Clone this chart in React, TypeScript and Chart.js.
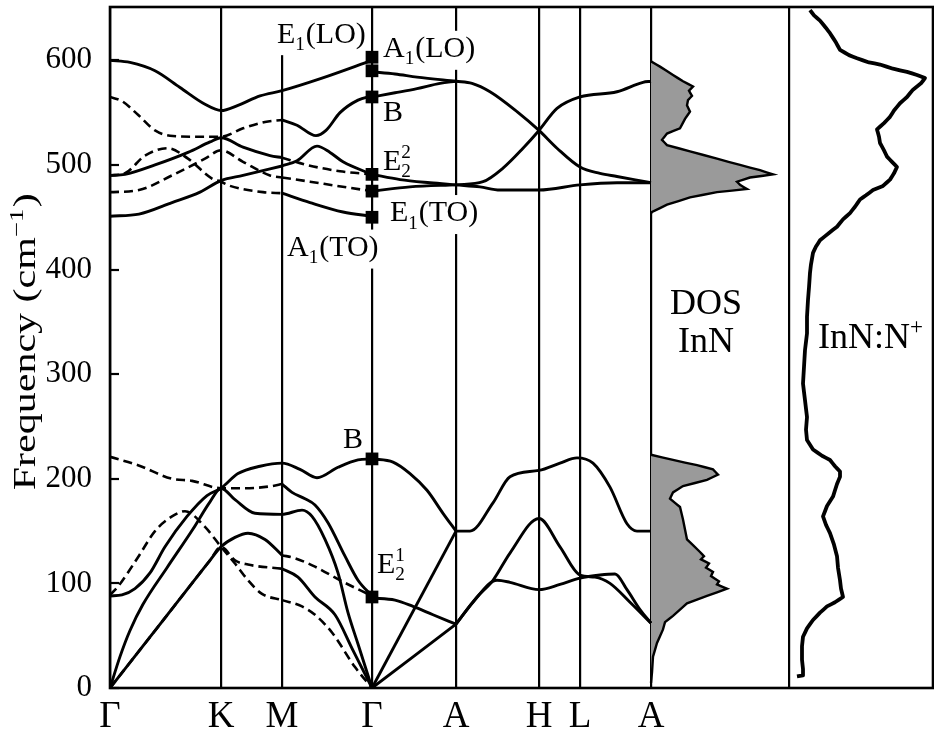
import React, { useEffect, useRef } from "react";
import { Chart, registerables } from "chart.js";

Chart.register(...registerables);

const FONT = "'Liberation Serif', 'DejaVu Serif', serif";

// ---- axes ----
const kPointPos = [0, 111, 172, 262, 346, 429, 470, 541, 679];
const kPointLabels = ["Γ", "K", "M", "Γ", "A", "H", "L", "A", ""];
const GAMMA2 = 262;
const A_END = 541;
const SEP = 679;
const X_MAX = 823;
const yTicks = [0, 100, 200, 300, 400, 500, 600];
const Y_MAX = 651;

// ---- optical branches (path coordinate, frequency cm^-1) ----
const topBranch = [[0, 600], [20, 598], [45, 590], [70, 574], [95, 558], [111, 552], [128, 557], [150, 566], [172, 571], [212, 583], [262, 600]];
const upperDashA = [[0, 565], [12, 561], [28, 548], [45, 533], [60, 528], [85, 527], [111, 527], [133, 535], [155, 541], [172, 543]];
const upperSolidA2 = [[172, 543], [187, 538], [206, 528], [216, 533], [230, 550], [248, 562], [262, 566]];
const upperSolidB = [[0, 490], [15, 491], [45, 500], [78, 512], [100, 522], [111, 526], [133, 517], [160, 509], [172, 507]];
const upperDashB2 = [[172, 507], [197, 500], [230, 494], [262, 491]];
const upperDashC = [[0, 490], [15, 492], [35, 509], [58, 516], [78, 506], [102, 487], [111, 484], [120, 480], [153, 474], [172, 473]];
const upperSolidC2 = [[172, 473], [200, 464], [233, 455], [262, 451]];
const upperDashD = [[0, 474], [29, 476], [62, 490], [95, 506], [111, 514], [133, 503], [160, 490], [172, 488]];
const upperDashD2 = [[172, 488], [200, 484], [227, 480], [262, 475]];
const upperSolidE = [[0, 451], [29, 453], [62, 464], [90, 474], [111, 485], [133, 490], [172, 499]];
const upperSolidE2 = [[172, 499], [187, 504], [207, 518], [220, 512], [233, 503], [262, 491]];

const gaLO = [[262, 589], [285, 587], [307, 584], [346, 580]];
const gaB = [[262, 565], [285, 569], [307, 573], [330, 578], [346, 580]];
const gaE2 = [[262, 491], [290, 486], [320, 483], [346, 481]];
const gaTO = [[262, 475], [300, 479], [346, 481]];

const ahUpA = [[346, 580], [362, 578], [380, 570], [407, 551], [429, 533], [447, 516], [470, 498], [490, 492], [507, 489], [541, 483]];
const ahUpB = [[346, 481], [373, 484], [393, 497], [413, 516], [429, 533], [447, 554], [470, 565], [507, 570], [533, 579], [541, 580]];
const ahUpC = [[346, 481], [370, 479], [390, 476], [429, 476], [470, 481], [507, 483], [541, 483]];

// ---- acoustic / low branches ----
const lowDashA = [[0, 221], [28, 213], [62, 200], [82, 198], [111, 191], [135, 191], [162, 193], [172, 195]];
const lowSolidA2 = [[172, 195], [182, 187], [195, 181], [205, 175], [218, 158], [235, 126], [248, 103], [262, 88]];
const lowSolidB = [[0, 88], [12, 89], [25, 95], [40, 110], [55, 135], [77, 164], [97, 184], [111, 191], [128, 205], [150, 212], [172, 215], [190, 209], [207, 201], [228, 211], [248, 218], [262, 219]];
const lowSolidC = [[0, 0], [10, 30], [20, 55], [33, 80], [57, 115], [83, 152], [100, 178], [111, 191], [125, 180], [145, 167], [172, 166], [192, 170], [202, 164], [215, 142], [228, 110], [238, 72], [248, 42], [262, 0]];
const lowDashD = [[0, 89], [8, 97], [28, 125], [45, 150], [62, 164], [75, 169], [95, 154], [111, 135], [125, 119], [138, 103], [152, 90], [172, 84]];
const lowDashD2 = [[172, 84], [192, 78], [205, 70], [222, 53], [245, 20], [262, 0]];
const lowDashE = [[0, 0], [55, 67], [100, 122], [111, 135], [125, 122], [138, 118], [172, 114]];
const lowSolidE2 = [[172, 114], [188, 106], [205, 87], [225, 70], [243, 36], [262, 0]];
const lowSolidF = [[0, 0], [55, 67], [100, 122], [111, 135], [125, 144], [138, 148], [155, 142], [172, 127]];
const lowDashF2 = [[172, 127], [185, 124], [205, 116], [232, 102], [262, 88]];

const gaLowB = [[262, 219], [283, 216], [300, 205], [317, 189], [333, 167], [346, 150]];
const gaLowE = [[262, 86], [285, 84], [303, 78], [323, 70], [346, 61]];
const gaLowAc1 = [[262, 0], [346, 150]];
const gaLowAc2 = [[262, 0], [346, 61]];

const ahLowA = [[346, 150], [360, 150], [383, 177], [400, 202], [429, 208], [450, 215], [467, 220], [483, 215], [500, 192], [517, 157], [527, 150], [541, 150]];
const ahLowB = [[346, 61], [367, 87], [383, 103], [400, 129], [429, 162], [450, 135], [470, 108], [485, 106], [500, 100], [520, 82], [541, 62]];
const ahLowC = [[346, 61], [363, 82], [387, 103], [400, 101], [429, 94], [450, 99], [470, 105], [490, 108], [505, 109], [517, 94], [530, 75], [541, 62]];

// ---- Raman-active modes at Gamma ----
const gammaModes = [603, 590, 565, 491, 475, 450, 219, 87];

// ---- density of states (value, frequency) ----
const dosUpper = [[0, 599], [9, 594], [22, 586], [32, 580], [42, 575], [38, 571], [41, 566], [37, 562], [36, 557], [39, 551], [34, 544], [29, 535], [16, 530], [11, 524], [16, 519], [39, 513], [66, 506], [89, 500], [109, 495], [122, 491], [99, 488], [86, 484], [89, 481], [96, 477], [66, 474], [39, 469], [16, 462], [1, 455], [0, 454]];
const dosLower = [[0, 223], [22, 218], [46, 213], [62, 209], [67, 204], [56, 199], [32, 193], [22, 187], [19, 181], [29, 173], [32, 161], [36, 142], [49, 130], [53, 126], [50, 123], [58, 119], [55, 115], [62, 111], [60, 107], [68, 102], [66, 99], [76, 95], [56, 88], [36, 81], [22, 69], [14, 63], [12, 56], [6, 43], [2, 30], [1, 15], [0, 5]];

// ---- Raman spectrum InN:N+ (intensity, frequency) ----
const ramanSpectrum = [[21, 648], [25, 643], [31, 638], [37, 631], [41, 626], [47, 617], [51, 610], [60, 605], [68, 602], [80, 598], [91, 596], [104, 592], [118, 589], [128, 586], [136, 583], [132, 578], [124, 572], [118, 565], [111, 559], [105, 552], [101, 546], [95, 540], [88, 534], [90, 527], [91, 521], [95, 514], [98, 508], [103, 503], [108, 498], [105, 492], [101, 486], [94, 480], [84, 476], [77, 471], [71, 467], [66, 460], [61, 454], [54, 448], [48, 441], [40, 435], [31, 428], [27, 422], [24, 416], [22, 405], [21, 397], [20, 383], [19, 371], [18, 355], [18, 339], [16, 323], [15, 307], [14, 291], [16, 275], [18, 259], [17, 247], [18, 237], [24, 228], [33, 222], [41, 218], [46, 212], [51, 207], [51, 202], [48, 195], [44, 183], [38, 174], [34, 164], [37, 156], [41, 148], [45, 137], [48, 126], [49, 115], [51, 103], [52, 95], [54, 87], [46, 82], [38, 78], [31, 72], [24, 65], [18, 57], [14, 49], [13, 40], [13, 27], [14, 18], [14, 12], [8, 11]];

type Part = { t: string; k?: "sub" | "sup" | "subsup"; s?: string };
type Note = { u: number; f: number; size: number; parts: Part[]; center?: boolean; toTop?: boolean };

const annotations: Note[] = [
  { u: 167, f: 617, size: 30, parts: [{ t: "E" }, { t: "1", k: "sub" }, { t: "(LO)" }], toTop: true },
  { u: 273, f: 603, size: 30, parts: [{ t: "A" }, { t: "1", k: "sub" }, { t: "(LO)" }] },
  { u: 273, f: 542, size: 30, parts: [{ t: "B" }] },
  { u: 273, f: 495, size: 30, parts: [{ t: "E" }, { t: "2", k: "subsup", s: "2" }] },
  { u: 280, f: 446, size: 30, parts: [{ t: "E" }, { t: "1", k: "sub" }, { t: "(TO)" }] },
  { u: 177, f: 413, size: 30, parts: [{ t: "A" }, { t: "1", k: "sub" }, { t: "(TO)" }] },
  { u: 233, f: 229, size: 30, parts: [{ t: "B" }] },
  { u: 267, f: 110, size: 30, parts: [{ t: "E" }, { t: "2", k: "subsup", s: "1" }] },
  { u: 596, f: 358, size: 36, center: true, parts: [{ t: "DOS" }] },
  { u: 596, f: 321, size: 36, center: true, parts: [{ t: "InN" }] },
  { u: 761, f: 325, size: 36, center: true, parts: [{ t: "InN:N" }, { t: "+", k: "sup" }] },
];

const titleParts: Part[] = [{ t: "Frequency (cm" }, { t: "−1", k: "sup" }, { t: ")" }];

function richWidth(ctx: CanvasRenderingContext2D, parts: Part[], size: number) {
  let w = 0;
  for (const p of parts) {
    if (!p.k) {
      ctx.font = `${size}px ${FONT}`;
      w += ctx.measureText(p.t).width;
    } else {
      ctx.font = `${size * 0.64}px ${FONT}`;
      const w1 = ctx.measureText(p.t).width;
      const w2 = p.s ? ctx.measureText(p.s).width : 0;
      w += Math.max(w1, w2) + size * 0.03;
    }
  }
  return w;
}

function drawRich(ctx: CanvasRenderingContext2D, parts: Part[], x: number, y: number, size: number) {
  let cx = x;
  ctx.textAlign = "left";
  ctx.textBaseline = "alphabetic";
  for (const p of parts) {
    if (!p.k) {
      ctx.font = `${size}px ${FONT}`;
      ctx.fillText(p.t, cx, y);
      cx += ctx.measureText(p.t).width;
    } else {
      ctx.font = `${size * 0.64}px ${FONT}`;
      const w1 = ctx.measureText(p.t).width;
      const w2 = p.s ? ctx.measureText(p.s).width : 0;
      if (p.k === "sub") ctx.fillText(p.t, cx, y + size * 0.24);
      else if (p.k === "sup") ctx.fillText(p.t, cx, y - size * 0.4);
      else {
        ctx.fillText(p.t, cx, y + size * 0.24);
        if (p.s) ctx.fillText(p.s, cx, y - size * 0.4);
      }
      cx += Math.max(w1, w2) + size * 0.03;
    }
  }
}

const decorPlugin = {
  id: "decor",
  beforeDatasetsDraw(chart: any) {
    const { ctx, chartArea, scales } = chart;
    const xs = scales.x, ys = scales.y;
    ctx.save();
    ctx.fillStyle = "#fff";
    for (const a of annotations) {
      const w = richWidth(ctx, a.parts, a.size);
      let px = xs.getPixelForValue(a.u);
      const py = ys.getPixelForValue(a.f);
      if (a.center) px -= w / 2;
      const top = a.toTop ? chartArea.top + 1 : py - a.size * 0.88;
      ctx.fillRect(px - 3, top, w + 6, py + a.size * 0.42 - top);
    }
    ctx.restore();
  },
  afterDatasetsDraw(chart: any) {
    const { ctx, scales } = chart;
    const xs = scales.x, ys = scales.y;
    ctx.save();
    ctx.fillStyle = "#000";
    for (const a of annotations) {
      const w = richWidth(ctx, a.parts, a.size);
      let px = xs.getPixelForValue(a.u);
      const py = ys.getPixelForValue(a.f);
      if (a.center) px -= w / 2;
      drawRich(ctx, a.parts, px, py, a.size);
    }
    ctx.restore();
  },
  afterDraw(chart: any) {
    const { ctx, chartArea, scales } = chart;
    const ys = scales.y;
    ctx.save();
    ctx.strokeStyle = "#000";
    ctx.lineWidth = 2.6;
    ctx.strokeRect(chartArea.left, chartArea.top, chartArea.right - chartArea.left, chartArea.bottom - chartArea.top);
    ctx.lineWidth = 2.2;
    for (const v of yTicks) {
      const py = Math.round(ys.getPixelForValue(v));
      ctx.beginPath();
      ctx.moveTo(chartArea.left, py);
      ctx.lineTo(chartArea.left + 9, py);
      ctx.stroke();
    }
    // y-axis title
    const size = 31;
    const w = richWidth(ctx, titleParts, size);
    const sx = 297 / w;
    ctx.translate(chartArea.left - 75, ys.getPixelForValue(331));
    ctx.rotate(-Math.PI / 2);
    ctx.scale(sx, 1);
    ctx.fillStyle = "#000";
    drawRich(ctx, titleParts, -w / 2, 0, size);
    ctx.restore();
  },
};

const toXY = (arr: number[][], dx = 0) => arr.map(([x, y]) => ({ x: x + dx, y }));

const solidBranches = [
  topBranch, upperSolidA2, upperSolidB, upperSolidC2, upperSolidE, upperSolidE2,
  gaLO, gaB, gaE2, gaTO, ahUpA, ahUpB, ahUpC,
  lowSolidA2, lowSolidB, lowSolidC, lowSolidE2, lowSolidF,
  gaLowB, gaLowE, gaLowAc1, gaLowAc2, ahLowA, ahLowB, ahLowC,
];
const dashedBranches = [upperDashA, upperDashB2, upperDashC, upperDashD, upperDashD2, lowDashA, lowDashD, lowDashD2, lowDashE, lowDashF2];

export default function App() {
  const ref = useRef<HTMLCanvasElement | null>(null);
  useEffect(() => {
    if (!ref.current) return;
    const lineBase = {
      showLine: true,
      borderColor: "#000",
      borderWidth: 2.9,
      pointRadius: 0,
      pointHoverRadius: 0,
      cubicInterpolationMode: "monotone" as const,
      fill: false,
    };
    const datasets: any[] = [
      ...solidBranches.map((b) => ({ ...lineBase, data: toXY(b) })),
      ...dashedBranches.map((b) => ({ ...lineBase, borderWidth: 2.6, borderDash: [9, 5], data: toXY(b) })),
      {
        data: toXY(dosUpper, A_END), showLine: true, borderColor: "#000", borderWidth: 2.4,
        backgroundColor: "#9a9a9a", fill: "shape", tension: 0.001, pointRadius: 0, pointHoverRadius: 0,
      },
      {
        data: toXY(dosLower, A_END), showLine: true, borderColor: "#000", borderWidth: 2.4,
        backgroundColor: "#9a9a9a", fill: "shape", tension: 0.001, pointRadius: 0, pointHoverRadius: 0,
      },
      {
        data: toXY(ramanSpectrum, SEP), showLine: true, borderColor: "#000", borderWidth: 3.8,
        fill: false, tension: 0.001, pointRadius: 0, pointHoverRadius: 0, borderJoinStyle: "round",
      },
      {
        data: gammaModes.map((f) => ({ x: GAMMA2, y: f })), showLine: false,
        pointStyle: "rect", pointRadius: 9, pointHoverRadius: 9,
        backgroundColor: "#000", borderColor: "#000", borderWidth: 0,
      },
    ];
    const chart = new Chart(ref.current, {
      type: "scatter",
      data: { datasets },
      plugins: [decorPlugin],
      options: {
        responsive: false,
        devicePixelRatio: 1,
        animation: false,
        events: [],
        layout: { autoPadding: false, padding: { top: 7, right: 1, left: 0, bottom: 0 } },
        plugins: { legend: { display: false }, tooltip: { enabled: false } },
        scales: {
          x: {
            type: "linear",
            min: 0,
            max: X_MAX,
            afterBuildTicks: (scale: any) => {
              scale.ticks = kPointPos.map((v) => ({ value: v }));
            },
            afterFit: (scale: any) => {
              scale.height = 50;
              scale.paddingLeft = 0;
              scale.paddingRight = 0;
            },
            ticks: {
              autoSkip: false,
              maxRotation: 0,
              padding: 7,
              color: "#000",
              font: { family: FONT, size: 37 },
              callback: (_v: any, i: number) => kPointLabels[i],
            },
            grid: { color: "#000", lineWidth: 2.2, drawTicks: false },
            border: { display: false },
          },
          y: {
            type: "linear",
            min: 0,
            max: Y_MAX,
            afterBuildTicks: (scale: any) => {
              scale.ticks = yTicks.map((v) => ({ value: v }));
            },
            afterFit: (scale: any) => {
              scale.width = 110;
              scale.paddingTop = 0;
              scale.paddingBottom = 0;
            },
            ticks: {
              padding: 10,
              color: "#000",
              font: { family: FONT, size: 31 },
              callback: (v: any) => String(v),
            },
            grid: { display: false },
            border: { display: false },
          },
        },
      } as any,
    });
    return () => chart.destroy();
  }, []);
  return (
    <div style={{ position: "fixed", left: 0, top: 0, width: 934, height: 738, background: "#fff" }}>
      <canvas ref={ref} width={934} height={738} style={{ display: "block", width: 934, height: 738 }} />
    </div>
  );
}
